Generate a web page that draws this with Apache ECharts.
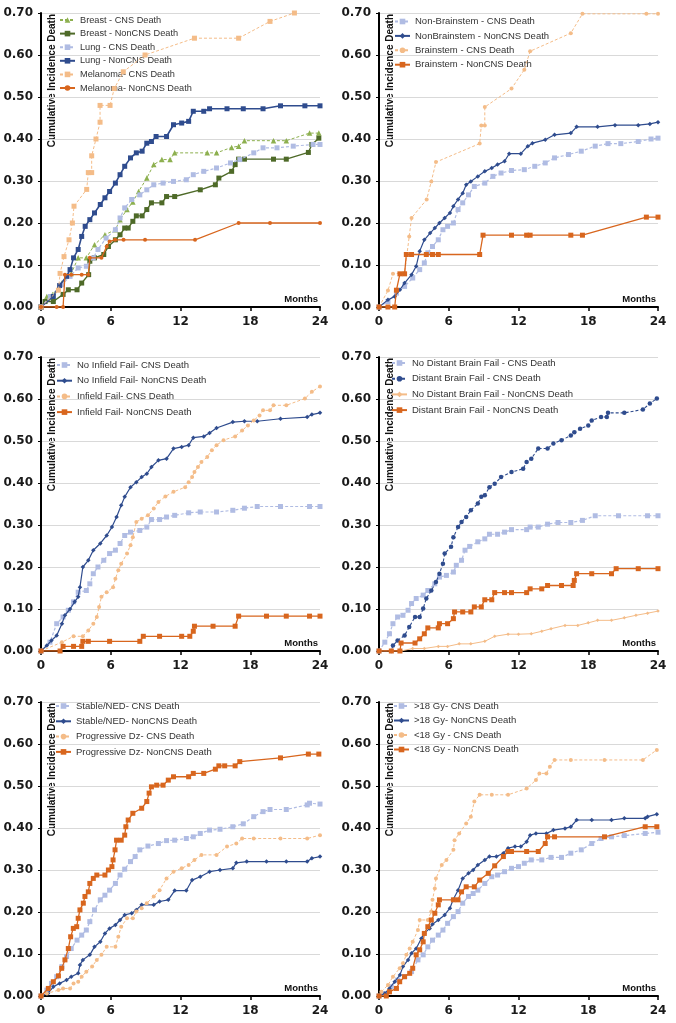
<!DOCTYPE html>
<html><head><meta charset="utf-8">
<script src="https://cdn.jsdelivr.net/npm/echarts@6/dist/echarts.min.js"></script>
<style>html,body{margin:0;padding:0;background:#fff}#c{width:676px;height:1023px}</style>
</head><body><div id="c"></div>
<script>
// ---------- Panel 1 : primary histology ----------
const breastCNS = [[0,0],[0.5,0.025],[1.0,0.03],[1.8,0.057],[2.6,0.08],[3.2,0.117],[3.9,0.117],[4.6,0.148],[5.5,0.172],[6.4,0.184],[6.8,0.208],[7.4,0.232],[7.9,0.25],[8.4,0.275],[9.1,0.307],[9.7,0.339],[10.4,0.351],[11.1,0.351],[11.5,0.367],[14.3,0.367],[15.1,0.367],[16.4,0.38],[17.0,0.383],[17.5,0.396],[20.0,0.396],[21.1,0.396],[23.1,0.414],[23.9,0.414]];
const breastNonCNS = [[0,0],[0.35,0.013],[1.06,0.013],[1.9,0.03],[2.35,0.041],[3.1,0.041],[3.5,0.057],[4.1,0.077],[4.2,0.109],[4.6,0.117],[5.4,0.125],[5.8,0.144],[6.4,0.16],[6.8,0.172],[7.2,0.188],[7.5,0.188],[7.9,0.204],[8.2,0.217],[8.7,0.217],[9.1,0.232],[9.5,0.248],[10.4,0.248],[10.8,0.263],[11.5,0.263],[13.7,0.279],[15.0,0.291],[15.3,0.307],[16.4,0.323],[16.7,0.339],[17.0,0.352],[17.5,0.352],[20.0,0.352],[21.1,0.352],[23.0,0.368],[23.3,0.387],[23.9,0.402]];
const lungCNS = [[0,0],[0.8,0.025],[1.8,0.053],[2.5,0.073],[3.2,0.093],[3.9,0.097],[4.5,0.117],[4.9,0.137],[5.6,0.164],[6.4,0.184],[6.8,0.212],[7.2,0.236],[7.8,0.256],[8.5,0.267],[9.1,0.279],[9.7,0.291],[10.5,0.295],[11.4,0.299],[12.5,0.303],[13.1,0.315],[14.0,0.323],[15.1,0.331],[16.3,0.343],[17.1,0.351],[18.3,0.367],[19.1,0.379],[20.3,0.379],[21.7,0.383],[23.4,0.387],[24,0.387]];
const lungNonCNS = [[0,0],[1.06,0.025],[1.6,0.051],[2.2,0.073],[2.5,0.089],[2.8,0.117],[3.2,0.137],[3.5,0.168],[3.8,0.192],[4.2,0.208],[4.6,0.224],[5.1,0.244],[5.5,0.26],[5.9,0.275],[6.4,0.295],[6.8,0.315],[7.2,0.335],[7.7,0.355],[8.2,0.367],[8.7,0.371],[9.1,0.39],[9.5,0.394],[9.9,0.406],[10.8,0.406],[11.4,0.434],[12.1,0.438],[12.7,0.442],[13.1,0.466],[14.0,0.466],[14.5,0.472],[16.0,0.472],[17.4,0.472],[19.1,0.472],[20.6,0.479],[22.7,0.479],[24,0.479]];
const melCNS = [[0,0],[1.5,0.04],[1.64,0.08],[1.98,0.12],[2.41,0.16],[2.7,0.2],[2.84,0.24],[3.93,0.28],[4.07,0.32],[4.36,0.32],[4.36,0.36],[4.73,0.4],[5.08,0.44],[5.08,0.48],[5.94,0.48],[6.3,0.52],[7.08,0.56],[8.95,0.6],[13.2,0.64],[17.0,0.64],[19.7,0.68],[21.8,0.70]];
const melNonCNS = [[0,0],[1.35,0],[1.9,0],[2.06,0.077],[2.6,0.077],[3.5,0.077],[4.07,0.077],[4.2,0.117],[5.2,0.117],[5.65,0.144],[5.9,0.156],[6.37,0.16],[7.1,0.16],[8.95,0.16],[13.25,0.16],[17.0,0.2],[19.7,0.2],[24,0.2]];
// ---------- Panel 2 : brainstem ----------
const nonBsCNS = [[0,0],[0.77,0.013],[1.5,0.033],[2.2,0.049],[2.9,0.069],[3.5,0.089],[3.9,0.105],[4.2,0.129],[4.6,0.144],[5.1,0.16],[5.5,0.184],[5.9,0.192],[6.4,0.2],[6.8,0.232],[7.2,0.248],[7.7,0.267],[8.2,0.287],[9.1,0.295],[9.8,0.311],[10.5,0.319],[11.4,0.325],[12.5,0.327],[13.4,0.335],[14.3,0.343],[15.1,0.355],[16.3,0.363],[17.4,0.371],[18.6,0.383],[19.7,0.389],[20.8,0.389],[22.3,0.394],[23.4,0.4],[24,0.402]];
const nonBsNonCNS = [[0,0],[0.77,0.017],[1.35,0.025],[1.8,0.041],[2.2,0.057],[2.8,0.077],[3.2,0.097],[3.5,0.133],[3.9,0.16],[4.4,0.176],[4.8,0.188],[5.2,0.2],[5.65,0.212],[6.1,0.224],[6.4,0.24],[6.8,0.256],[7.2,0.271],[7.5,0.291],[7.9,0.299],[8.5,0.311],[9.1,0.323],[9.7,0.331],[10.2,0.339],[10.8,0.347],[11.2,0.365],[12.2,0.365],[12.8,0.383],[13.2,0.39],[14.3,0.398],[15.1,0.41],[16.5,0.414],[17.0,0.429],[18.8,0.429],[20.3,0.433],[22.3,0.433],[23.3,0.436],[24,0.44]];
const bsCNS = [[0,0],[0.77,0.039],[1.2,0.079],[2.2,0.081],[2.6,0.168],[2.8,0.212],[4.1,0.256],[4.5,0.299],[4.9,0.345],[8.66,0.389],[8.8,0.432],[9.1,0.432],[9.1,0.476],[11.4,0.52],[12.5,0.565],[13.0,0.609],[16.5,0.652],[17.5,0.698],[23.0,0.698],[24,0.698]];
const bsNonCNS = [[0,0],[0.77,0],[1.35,0],[1.5,0.04],[1.8,0.079],[2.2,0.079],[2.35,0.125],[2.8,0.125],[4.07,0.125],[4.6,0.125],[5.1,0.125],[8.66,0.125],[8.95,0.171],[11.4,0.171],[12.7,0.171],[13.0,0.171],[16.5,0.171],[17.5,0.171],[23.0,0.214],[24,0.214]];
// ---------- Panel 3 : infield failure ----------
const noInfCNS = [[0,0],[0.77,0.021],[1.35,0.065],[1.9,0.081],[2.35,0.097],[2.8,0.117],[3.2,0.14],[3.9,0.144],[4.2,0.16],[4.5,0.184],[4.9,0.2],[5.4,0.216],[5.9,0.232],[6.4,0.24],[6.8,0.256],[7.2,0.275],[7.7,0.283],[8.5,0.287],[9.1,0.295],[9.5,0.313],[10.2,0.313],[10.8,0.319],[11.5,0.323],[12.7,0.329],[13.7,0.331],[15.1,0.331],[16.5,0.335],[17.5,0.34],[18.6,0.344],[20.6,0.344],[23.1,0.344],[24,0.344]];
const noInfNonCNS = [[0,0],[0.5,0.013],[0.9,0.025],[1.35,0.037],[1.8,0.065],[2.06,0.085],[2.5,0.1],[2.9,0.117],[3.2,0.129],[3.35,0.152],[3.6,0.2],[4.07,0.216],[4.5,0.24],[5.1,0.256],[5.65,0.275],[6.1,0.295],[6.5,0.319],[6.9,0.347],[7.2,0.367],[7.7,0.39],[8.2,0.402],[8.66,0.414],[9.1,0.422],[9.5,0.438],[10.1,0.454],[10.8,0.458],[11.4,0.482],[12.1,0.486],[12.7,0.49],[13.1,0.508],[14.0,0.511],[14.5,0.519],[15.1,0.531],[16.5,0.545],[17.5,0.547],[18.6,0.547],[20.6,0.553],[22.9,0.557],[23.3,0.563],[24,0.567]];
const infCNS = [[0,0],[1.8,0.021],[2.8,0.035],[3.6,0.035],[4.07,0.049],[4.5,0.065],[4.8,0.081],[5.0,0.105],[5.2,0.129],[5.65,0.14],[6.2,0.152],[6.4,0.172],[6.65,0.192],[6.9,0.208],[7.4,0.232],[7.7,0.252],[7.9,0.271],[8.2,0.307],[8.66,0.315],[9.2,0.323],[9.7,0.339],[10.1,0.355],[10.7,0.368],[11.4,0.379],[12.4,0.39],[12.7,0.402],[13.0,0.414],[13.2,0.426],[13.5,0.438],[13.8,0.45],[14.3,0.462],[14.7,0.478],[15.1,0.49],[15.7,0.502],[16.7,0.511],[17.3,0.525],[17.8,0.537],[18.3,0.549],[18.8,0.561],[19.1,0.573],[19.7,0.573],[20.0,0.585],[21.1,0.585],[22.7,0.601],[23.3,0.617],[24,0.63]];
const infNonCNS = [[0,0],[1.64,0],[1.9,0.011],[2.8,0.011],[3.5,0.011],[3.6,0.023],[4.07,0.023],[5.9,0.023],[8.5,0.023],[8.8,0.035],[10.2,0.035],[12.1,0.035],[12.8,0.035],[13.1,0.047],[13.2,0.059],[14.8,0.059],[16.7,0.059],[17.0,0.083],[19.4,0.083],[21.1,0.083],[23.1,0.083],[24,0.083]];
// ---------- Panel 4 : distant brain failure ----------
const noDbfCNS = [[0,0],[0.5,0.021],[0.9,0.041],[1.2,0.065],[1.6,0.081],[2.06,0.085],[2.5,0.097],[2.8,0.113],[3.2,0.125],[3.8,0.133],[4.2,0.144],[4.8,0.16],[5.2,0.176],[5.8,0.18],[6.4,0.188],[6.65,0.204],[7.1,0.216],[7.4,0.24],[7.8,0.249],[8.5,0.26],[9.1,0.267],[9.5,0.278],[10.2,0.278],[10.8,0.283],[11.4,0.289],[12.7,0.289],[13.0,0.295],[13.7,0.295],[14.5,0.302],[15.4,0.306],[16.5,0.306],[17.5,0.311],[18.6,0.322],[20.6,0.322],[23.1,0.322],[24,0.322]];
const dbfCNS = [[0,0],[1.06,0],[1.2,0.013],[1.6,0.025],[2.2,0.037],[2.6,0.057],[3.1,0.081],[3.5,0.081],[3.8,0.101],[4.07,0.125],[4.5,0.144],[4.9,0.164],[5.2,0.184],[5.5,0.208],[5.65,0.232],[6.2,0.248],[6.4,0.271],[6.8,0.295],[7.1,0.307],[7.5,0.319],[7.9,0.335],[8.5,0.351],[8.8,0.367],[9.1,0.371],[9.5,0.39],[9.95,0.398],[10.5,0.414],[11.4,0.426],[12.4,0.434],[12.7,0.45],[13.1,0.458],[13.7,0.482],[14.5,0.482],[15.0,0.494],[15.7,0.502],[16.5,0.513],[16.8,0.521],[17.3,0.529],[18.0,0.537],[18.3,0.549],[19.1,0.557],[19.6,0.557],[19.7,0.567],[21.1,0.567],[22.7,0.575],[23.3,0.589],[23.9,0.601]];
const noDbfNonCNS = [[0,0],[1.9,0],[2.9,0.006],[3.9,0.006],[5.1,0.011],[5.9,0.011],[6.9,0.017],[7.9,0.017],[9.1,0.023],[9.95,0.035],[11.1,0.04],[12.0,0.04],[13.1,0.041],[14.0,0.047],[14.8,0.053],[16.0,0.061],[17.1,0.061],[18.0,0.067],[18.8,0.073],[20.0,0.073],[21.1,0.079],[22.1,0.085],[23.1,0.09],[24,0.095]];
const dbfNonCNS = [[0,0],[1.06,0],[1.8,0],[1.9,0.019],[3.1,0.019],[3.5,0.029],[3.9,0.041],[4.2,0.055],[5.1,0.055],[5.2,0.065],[5.9,0.065],[6.4,0.077],[6.5,0.093],[7.2,0.093],[7.9,0.093],[8.2,0.105],[8.8,0.105],[9.1,0.122],[9.7,0.122],[9.95,0.139],[10.8,0.139],[11.4,0.139],[12.7,0.139],[13.0,0.148],[14.0,0.148],[14.5,0.156],[15.7,0.156],[16.7,0.156],[16.8,0.168],[17.0,0.184],[18.3,0.184],[20.0,0.184],[20.4,0.196],[22.3,0.196],[24,0.196]];
// ---------- Panel 5 : systemic disease status ----------
const stableCNS = [[0,0],[0.5,0.014],[0.9,0.03],[1.35,0.046],[1.8,0.07],[2.2,0.094],[2.6,0.113],[3.1,0.133],[3.5,0.145],[3.9,0.157],[4.2,0.177],[4.6,0.205],[5.1,0.229],[5.5,0.24],[5.9,0.252],[6.4,0.268],[6.8,0.288],[7.2,0.302],[7.7,0.32],[8.1,0.332],[8.5,0.348],[9.2,0.357],[10.1,0.363],[10.8,0.37],[11.5,0.371],[12.5,0.375],[13.1,0.379],[13.7,0.387],[14.5,0.395],[15.4,0.397],[16.5,0.403],[17.4,0.41],[18.3,0.427],[19.1,0.439],[19.7,0.444],[21.1,0.444],[22.9,0.455],[23.1,0.459],[24,0.457]];
const stableNonCNS = [[0,0],[0.6,0.006],[1.06,0.022],[1.6,0.03],[2.2,0.038],[2.6,0.046],[3.2,0.054],[3.35,0.074],[3.6,0.086],[4.2,0.098],[4.6,0.117],[5.1,0.129],[5.5,0.149],[5.9,0.161],[6.4,0.169],[6.8,0.181],[7.2,0.193],[7.8,0.197],[8.2,0.205],[8.66,0.217],[9.7,0.217],[10.2,0.225],[10.95,0.229],[11.5,0.251],[12.5,0.251],[13.0,0.276],[13.7,0.284],[14.5,0.296],[15.4,0.3],[16.5,0.304],[16.8,0.317],[17.7,0.32],[19.4,0.32],[21.1,0.32],[22.9,0.32],[23.3,0.328],[24,0.332]];
const progCNS = [[0,0],[0.5,0.006],[1.5,0.014],[1.9,0.018],[2.5,0.018],[2.8,0.03],[3.2,0.034],[3.5,0.046],[3.9,0.058],[4.4,0.07],[4.8,0.086],[5.2,0.098],[5.65,0.117],[6.4,0.117],[6.65,0.141],[6.9,0.165],[7.4,0.185],[7.9,0.185],[8.2,0.201],[8.66,0.209],[9.1,0.221],[9.7,0.237],[10.2,0.252],[10.8,0.28],[11.4,0.296],[12.1,0.304],[12.7,0.312],[13.2,0.324],[13.8,0.336],[15.1,0.336],[16.0,0.356],[16.8,0.363],[17.3,0.375],[18.3,0.375],[20.6,0.375],[22.9,0.375],[24,0.383]];
const progNonCNS = [[0,0],[0.63,0.018],[1.06,0.034],[1.5,0.048],[1.78,0.066],[2.06,0.086],[2.35,0.113],[2.55,0.141],[2.78,0.161],[3.07,0.165],[3.2,0.185],[3.35,0.205],[3.64,0.221],[3.78,0.237],[4.07,0.248],[4.2,0.268],[4.5,0.28],[4.8,0.288],[5.5,0.288],[5.8,0.3],[6.1,0.308],[6.2,0.324],[6.37,0.348],[6.5,0.371],[6.9,0.371],[7.2,0.383],[7.3,0.403],[7.5,0.419],[7.9,0.435],[8.66,0.447],[9.1,0.463],[9.3,0.483],[9.5,0.498],[9.95,0.502],[10.5,0.502],[10.95,0.514],[11.4,0.522],[12.7,0.522],[13.1,0.53],[14.0,0.53],[15.0,0.54],[15.3,0.548],[15.8,0.548],[16.7,0.548],[17.1,0.558],[20.6,0.567],[23.0,0.576],[23.9,0.576]];
// ---------- Panel 6 : dose ----------
const hiGyCNS = [[0,0],[0.5,0.006],[1.06,0.022],[1.6,0.038],[2.2,0.046],[2.8,0.058],[3.35,0.086],[3.8,0.098],[4.2,0.117],[4.6,0.133],[5.1,0.145],[5.5,0.157],[5.9,0.173],[6.4,0.189],[6.8,0.201],[7.2,0.221],[7.7,0.237],[8.1,0.244],[8.5,0.252],[9.1,0.268],[9.7,0.284],[10.2,0.288],[10.8,0.296],[11.4,0.304],[12.0,0.308],[12.5,0.316],[13.1,0.324],[14.0,0.324],[14.8,0.33],[15.7,0.33],[16.5,0.34],[17.4,0.348],[18.3,0.363],[19.1,0.375],[20.0,0.379],[21.1,0.382],[22.9,0.387],[24,0.39]];
const hiGyNonCNS = [[0,0],[0.5,0.006],[0.9,0.018],[1.35,0.034],[1.8,0.05],[2.06,0.07],[2.5,0.086],[2.8,0.102],[3.2,0.113],[3.64,0.137],[3.9,0.149],[4.36,0.161],[4.6,0.171],[5.1,0.181],[5.65,0.193],[6.1,0.209],[6.37,0.229],[6.8,0.252],[7.2,0.28],[7.7,0.292],[8.1,0.3],[8.5,0.312],[9.1,0.324],[9.5,0.332],[10.1,0.332],[10.7,0.34],[11.1,0.352],[11.7,0.356],[12.2,0.356],[12.7,0.367],[13.0,0.383],[13.5,0.387],[14.4,0.387],[15.0,0.395],[16.0,0.399],[16.5,0.403],[17.0,0.419],[18.3,0.419],[20.0,0.419],[21.1,0.423],[22.9,0.423],[23.1,0.427],[23.9,0.433]];
const loGyCNS = [[0,0],[0.2,0.01],[0.77,0.026],[1.2,0.046],[1.78,0.066],[2.06,0.078],[2.35,0.098],[2.64,0.113],[2.9,0.129],[3.35,0.157],[3.5,0.181],[4.2,0.181],[4.5,0.201],[4.6,0.229],[4.8,0.256],[4.9,0.28],[5.4,0.312],[5.8,0.324],[6.4,0.348],[6.5,0.371],[6.9,0.387],[7.5,0.411],[7.9,0.427],[8.2,0.463],[8.66,0.479],[9.7,0.479],[11.1,0.479],[12.7,0.494],[13.5,0.514],[13.8,0.53],[14.4,0.53],[14.7,0.546],[15.1,0.562],[16.5,0.562],[19.4,0.562],[22.7,0.562],[23.9,0.586]];
const loGyNonCNS = [[0,0],[0.63,0],[0.9,0.01],[1.5,0.018],[1.78,0.034],[2.2,0.046],[2.64,0.054],[2.9,0.066],[3.2,0.098],[3.5,0.11],[3.8,0.129],[3.9,0.149],[4.2,0.165],[4.5,0.181],[4.8,0.197],[5.1,0.217],[5.2,0.229],[6.4,0.229],[6.8,0.229],[7.1,0.248],[7.5,0.26],[8.2,0.26],[8.66,0.276],[9.4,0.292],[9.95,0.31],[10.7,0.332],[11.1,0.344],[11.4,0.344],[12.7,0.344],[13.7,0.344],[14.3,0.363],[14.5,0.379],[15.1,0.379],[19.4,0.379],[22.9,0.403],[23.9,0.403]];

const xTickStep = 6, xMax = 24, yMax = 0.7, yStep = 0.1;
const yAxisTitle = 'Cumulative Incidence Death';
const xAxisTitle = 'Months';

// styles
const STY = {
  lav:      {color:'#B0BCE3', dash:[3,2], width:1.2, symbol:'rect', size:5},
  navy:     {color:'#2F4C8E', dash:'solid', width:1.2, symbol:'diamond', size:4.5},
  navySq:   {color:'#2F4C8E', dash:'solid', width:1.6, symbol:'rect', size:5},
  navyDash: {color:'#2F4C8E', dash:[3,2], width:1.1, symbol:'circle', size:4.5},
  peach:    {color:'#F4BC88', dash:[3,2], width:1, symbol:'circle', size:4},
  peachSq:  {color:'#F4BC88', dash:[3,2], width:1, symbol:'rect', size:5},
  peachLn:  {color:'#F4BC88', dash:'solid', width:1, symbol:'diamond', size:3.5},
  rust:     {color:'#D8661E', dash:'solid', width:1.3, symbol:'rect', size:5},
  rustDot:  {color:'#D8661E', dash:'solid', width:1.3, symbol:'circle', size:4},
  olive:    {color:'#8DB04F', dash:[3,2], width:1, symbol:'triangle', size:5.5},
  forest:   {color:'#4E6A28', dash:'solid', width:1.4, symbol:'rect', size:5}
};

const panels = [
  {left:41, top:13, lg:{left:59, top:14, gap:1.6, fs:9.2}, items:[
    ['Breast - CNS Death', breastCNS, 'olive'],
    ['Breast - NonCNS Death', breastNonCNS, 'forest'],
    ['Lung - CNS Death', lungCNS, 'lav'],
    ['Lung - NonCNS Death', lungNonCNS, 'navySq'],
    ['Melanoma- CNS Death', melCNS, 'peachSq'],
    ['Melanoma- NonCNS Death', melNonCNS, 'rustDot']]},
  {left:379, top:13, lg:{left:394, top:15.5, gap:2.4, fs:9.5}, items:[
    ['Non-Brainstem - CNS Death', nonBsCNS, 'lav'],
    ['NonBrainstem - NonCNS Death', nonBsNonCNS, 'navy'],
    ['Brainstem - CNS Death', bsCNS, 'peach'],
    ['Brainstem - NonCNS Death', bsNonCNS, 'rust']]},
  {left:41, top:357, lg:{left:56, top:359, gap:3.7, fs:9.5}, items:[
    ['No Infield Fail- CNS Death', noInfCNS, 'lav'],
    ['No Infield Fail- NonCNS Death', noInfNonCNS, 'navy'],
    ['Infield Fail- CNS Death', infCNS, 'peach'],
    ['Infield Fail- NonCNS Death', infNonCNS, 'rust']]},
  {left:379, top:357, lg:{left:391, top:357, gap:3.7, fs:9.5}, items:[
    ['No Distant Brain Fail - CNS Death', noDbfCNS, 'lav'],
    ['Distant Brain Fail - CNS Death', dbfCNS, 'navyDash'],
    ['No Distant Brain Fail - NonCNS Death', noDbfNonCNS, 'peachLn'],
    ['Distant Brain Fail - NonCNS Death', dbfNonCNS, 'rust']]},
  {left:41, top:702, lg:{left:55, top:700, gap:3.3, fs:9.5}, items:[
    ['Stable/NED- CNS Death', stableCNS, 'lav'],
    ['Stable/NED- NonCNS Death', stableNonCNS, 'navy'],
    ['Progressive Dz- CNS Death', progCNS, 'peach'],
    ['Progressive Dz- NonCNS Death', progNonCNS, 'rust']]},
  {left:379, top:702, lg:{left:393, top:700, gap:2.5, fs:9.5}, items:[
    ['>18 Gy- CNS Death', hiGyCNS, 'lav'],
    ['>18 Gy- NonCNS Death', hiGyNonCNS, 'navy'],
    ['<18 Gy - CNS Death', loGyCNS, 'peach'],
    ['<18 Gy - NonCNS Death', loGyNonCNS, 'rust']]}
];

const W = 279, H = 294;
const grid = [], xAxis = [], yAxis = [], series = [], legend = [], graphic = [];
panels.forEach((p, i) => {
  grid.push({left:p.left, top:p.top, width:W, height:H, containLabel:false});
  xAxis.push({
    type:'value', gridIndex:i, min:0, max:xMax, interval:xTickStep,
    name:xAxisTitle, nameLocation:'end', nameGap:-2,
    nameTextStyle:{fontFamily:'Liberation Sans', fontWeight:'bold', fontSize:9.5, color:'#111', align:'right', verticalAlign:'bottom', padding:[0,0,3,0]},
    axisLine:{show:true, lineStyle:{color:'#000', width:2}},
    axisTick:{show:true, length:4, lineStyle:{color:'#000', width:1.5}},
    axisLabel:{margin:9, fontFamily:'DejaVu Sans', fontWeight:'bold', fontSize:12, color:'#1a1a1a'},
    splitLine:{show:false}
  });
  yAxis.push({
    type:'value', gridIndex:i, min:0, max:yMax, interval:yStep,
    axisLine:{show:true, lineStyle:{color:'#000', width:2}},
    axisTick:{show:true, length:3, lineStyle:{color:'#000', width:1}},
    axisLabel:{margin:8, fontFamily:'DejaVu Sans', fontWeight:'bold', fontSize:12, color:'#1a1a1a', formatter:v => v.toFixed(2)},
    splitLine:{show:true, lineStyle:{color:'#D9D9D9', width:1}}
  });
  graphic.push({
    type:'text', x:p.left + 11, y:p.top + 1, rotation:Math.PI/2, silent:true,
    style:{text:yAxisTitle, fill:'#111', font:'bold 10px "Liberation Sans"', align:'right', verticalAlign:'middle'}
  });
  legend.push({
    orient:'vertical', left:p.lg.left, top:p.lg.top, itemWidth:15, itemHeight:7, itemGap:p.lg.gap,
    selectedMode:false, padding:0,
    textStyle:{fontFamily:'Liberation Sans', fontSize:p.lg.fs, color:'#333', lineHeight:12},
    data:p.items.map(it => it[0])
  });
  p.items.forEach(([name, data, sk], k) => {
    const s = STY[sk];
    series.push({
      type:'line', name, data, xAxisIndex:i, yAxisIndex:i,
      symbol:s.symbol, symbolSize:s.size, showSymbol:true, showAllSymbol:true,
      lineStyle:{color:s.color, width:s.width, type:s.dash},
      itemStyle:{color:s.color, borderWidth:0},
      animation:false, z:2 + k, clip:true
    });
  });
});

const chart = echarts.init(document.getElementById('c'), null, {renderer:'canvas'});
chart.setOption({backgroundColor:'#fff', animation:false, grid, xAxis, yAxis, series, legend, graphic});
</script></body></html>
